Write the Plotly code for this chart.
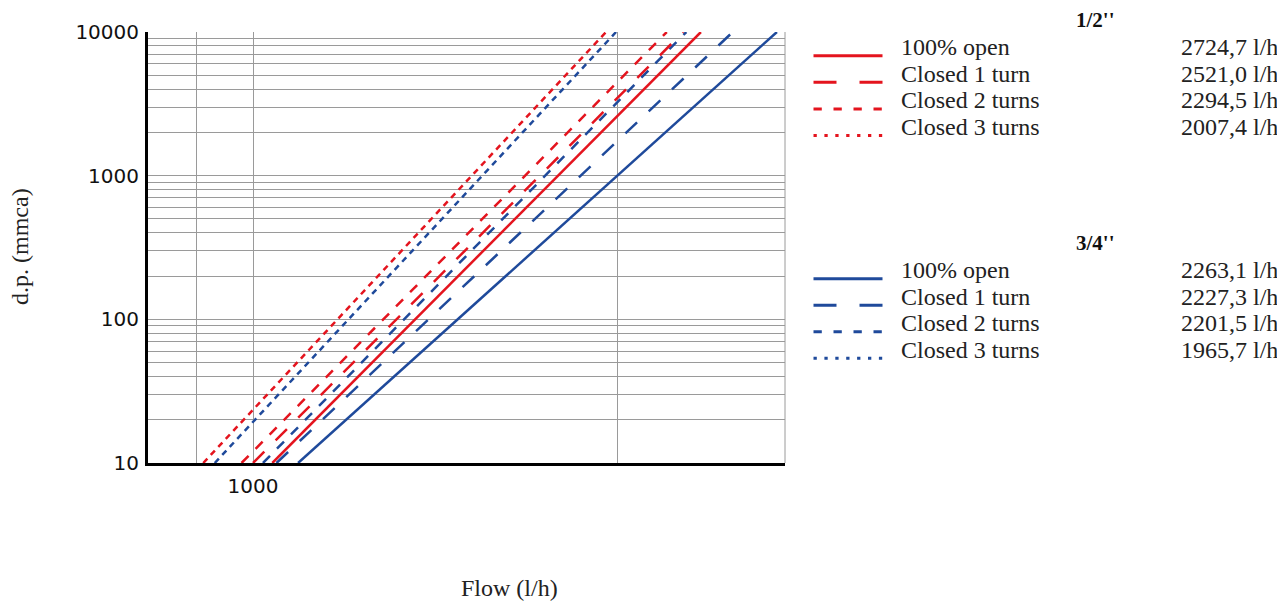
import plotly.graph_objects as go

# pressure drop range (mmca) at which each line starts and ends
dp = [10, 10000]

# flow (l/h) read at dp=10 and dp=10000
series_names = ["100% open", "Closed 1 turn", "Closed 2 turns", "Closed 3 turns"]
flow_half = [[1130, 17000], [1000, 15200], [930, 13700], [730, 9330]]
flow_3q = [[1330, 27500], [1160, 20800], [1065, 15500], [785, 9940]]
kv_half = ["2724,7 l/h", "2521,0 l/h", "2294,5 l/h", "2007,4 l/h"]
kv_3q = ["2263,1 l/h", "2227,3 l/h", "2201,5 l/h", "1965,7 l/h"]

# axis ticks
y_ticks = [m * 10 ** e for e in range(1, 4) for m in range(1, 10)] + [10000]
y_text = [str(v) if str(v).strip("0") == "1" else "" for v in y_ticks]
x_ticks = [700, 1000, 10000]
x_text = ["", "1000", ""]

RED = "#e4141e"
BLUE = "#1f4a9b"
plot_dash = ["solid", "16px,16px", "10px,10px", "6px,5px"]
legend_dash = ["solid", "23px,23px", "8.3px,11.7px", "3.3px,7.6px"]

# the page body adds an 8px margin, positions below are page pixels
OFF = 8
W, H = 1285 - OFF, 605 - OFF
L, R, T, B = 148, 785, 28, 463

def px_x(px):
    return (px - L) / (R - L)

def px_y(py):
    return (B - py) / (B - T)

fig = go.Figure()

for name, q, d in zip(series_names, flow_3q, plot_dash):
    fig.add_trace(go.Scatter(x=q, y=dp, mode="lines", name="3/4'' " + name,
                             line=dict(color=BLUE, width=2.5, dash=d)))
for name, q, d in zip(series_names, flow_half, plot_dash):
    fig.add_trace(go.Scatter(x=q, y=dp, mode="lines", name="1/2'' " + name,
                             line=dict(color=RED, width=2.5, dash=d)))

label_font = dict(family="Liberation Serif", size=24, color="#222222")
shapes = []
annotations = []

def note(x, y, text, xanchor="center", font=label_font, **kw):
    annotations.append(dict(x=px_x(x), y=px_y(y), xref="paper", yref="paper",
                            text=text, showarrow=False, xanchor=xanchor,
                            yanchor="middle", font=dict(font), **kw))

# hand-made legend blocks
for title, color, kvs, y0 in [("1/2''", RED, kv_half, 16), ("3/4''", BLUE, kv_3q, 241)]:
    note(1095, y0, "<b>" + title + "</b>",
         font=dict(family="Liberation Serif", size=21, color="#111111"))
    for i, (name, kv, d) in enumerate(zip(series_names, kvs, legend_dash)):
        yc = y0 + 30.5 + i * 26.8
        shapes.append(dict(type="line", xref="paper", yref="paper",
                           x0=px_x(813.5), x1=px_x(882.5),
                           y0=px_y(yc + 5.5), y1=px_y(yc + 5.5),
                           line=dict(color=color, width=3, dash=d)))
        note(899, yc - 3, name, xanchor="left")
        note(1280, yc - 3, kv, xanchor="right")

# right border
shapes.append(dict(type="line", xref="paper", yref="paper", x0=1, x1=1, y0=0, y1=1,
                   line=dict(color="#9a9a9a", width=1)))

note(510, 589, "Flow (l/h)")
note(20, 245, "d.p. (mmca)", textangle=-90)

fig.update_layout(
    width=W, height=H,
    margin=dict(l=L - OFF, r=W - (R - OFF), t=T - OFF, b=H - (B - OFF)),
    plot_bgcolor="white", paper_bgcolor="white",
    showlegend=False,
    shapes=shapes,
    annotations=annotations,
)

fig.update_xaxes(type="log", range=[2.7115, 4.4615],
                 tickvals=x_ticks, ticktext=x_text,
                 showgrid=True, gridcolor="#9a9a9a", gridwidth=1,
                 showline=True, linecolor="black", linewidth=3,
                 zeroline=False, ticks="", ticklabelstandoff=3,
                 tickfont=dict(family="DejaVu Sans", size=20, color="#111111"))
fig.update_yaxes(type="log", range=[1, 4],
                 tickvals=y_ticks, ticktext=y_text,
                 showgrid=True, gridcolor="#9a9a9a", gridwidth=1,
                 showline=True, linecolor="black", linewidth=3,
                 zeroline=False, ticks="", ticklabelstandoff=2,
                 tickfont=dict(family="DejaVu Sans", size=20, color="#111111"))

fig.write_html("out.html")
